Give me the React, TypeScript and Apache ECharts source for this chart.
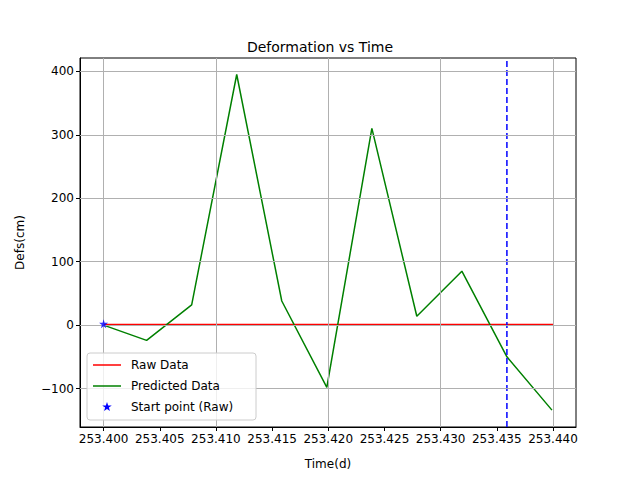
import { useEffect, useRef } from "react";
import * as echarts from "echarts";

const predTimes = [253.4, 253.40383, 253.40784, 253.41185, 253.41586, 253.41987, 253.42388, 253.42788, 253.43189, 253.4359, 253.43991];
const predDefs = [0, -24, 32, 395, 38, -98, 310, 14, 85, -50, -134];
const rawTimes = [253.4, 253.44];
const rawDefs = [1, 1];
const startPoint = [253.4, 2];
const markerTime = 253.4359;
const xTicks = [253.4, 253.405, 253.41, 253.415, 253.42, 253.425, 253.43, 253.435, 253.44];
const yTicks = [-100, 0, 100, 200, 300, 400];
const Y_MIN = -160.6;
const Y_MAX = 421;

const FONT = "DejaVu Sans";

function star(cx: number, cy: number, r: number) {
  const pts: number[][] = [];
  for (let i = 0; i < 10; i++) {
    const rr = i % 2 === 0 ? r : r * 0.4;
    const a = -Math.PI / 2 + (i * Math.PI) / 5;
    pts.push([cx + rr * Math.cos(a), cy + rr * Math.sin(a)]);
  }
  return pts;
}

export default function App() {
  const ref = useRef<HTMLDivElement | null>(null);
  useEffect(() => {
    document.body.style.margin = "0";
    const chart = echarts.init(ref.current!, undefined, { renderer: "svg" });
    const gridStyle = { color: "#b0b0b0", width: 1, type: "solid" as const };
    chart.setOption({
      animation: false,
      backgroundColor: "#fff",
      textStyle: { fontFamily: FONT },
      title: {
        text: "Deformation vs Time",
        left: "center",
        top: 35,
        textStyle: { fontFamily: FONT, fontSize: 14, fontWeight: "normal", color: "#000" },
      },
      grid: { left: 80, right: 64, top: 58, bottom: 53, show: true, borderColor: "#000", borderWidth: 1 },
      xAxis: {
        type: "value",
        min: 253.3979,
        max: 253.44205,
        name: "Time(d)",
        nameLocation: "middle",
        nameGap: 31,
        nameTextStyle: { fontFamily: FONT, fontSize: 12, color: "#000" },
        axisLine: { show: true, onZero: false, lineStyle: { color: "#000" } },
        axisTick: { show: true, customValues: xTicks, length: 4, lineStyle: { color: "#000" } },
        axisLabel: { customValues: xTicks, color: "#000", fontSize: 12, fontFamily: FONT, formatter: (v: number) => v.toFixed(3), margin: 6 },
        splitLine: { show: false },
      },
      yAxis: {
        type: "value",
        min: Y_MIN,
        max: Y_MAX,
        name: "Defs(cm)",
        nameLocation: "middle",
        nameGap: 54,
        nameTextStyle: { fontFamily: FONT, fontSize: 12, color: "#000" },
        axisLine: { show: true, onZero: false, lineStyle: { color: "#000" } },
        axisTick: { show: true, customValues: yTicks, length: 4, lineStyle: { color: "#000" } },
        axisLabel: { customValues: yTicks, color: "#000", fontSize: 12, fontFamily: FONT, formatter: (v: number) => (v < 0 ? "\u2212" + Math.abs(v) : String(v)), margin: 6 },
        splitLine: { show: false },
      },
      series: [
        {
          type: "line",
          data: [],
          silent: true,
          markLine: {
            symbol: "none",
            silent: true,
            label: { show: false },
            lineStyle: gridStyle,
            data: [...xTicks.map((x) => ({ xAxis: x })), ...yTicks.map((y) => ({ yAxis: y }))],
          },
        },
        {
          name: "Raw Data",
          type: "line",
          data: rawTimes.map((t, i) => [t, rawDefs[i]]),
          showSymbol: false,
          lineStyle: { color: "#ff0000", width: 1.5 },
          z: 3,
        },
        {
          name: "Predicted Data",
          type: "line",
          data: predTimes.map((t, i) => [t, predDefs[i]]),
          showSymbol: false,
          lineStyle: { color: "#008000", width: 1.5 },
          z: 4,
        },
        {
          name: "Marker",
          type: "line",
          data: [[markerTime, Y_MIN], [markerTime, Y_MAX]],
          showSymbol: false,
          silent: true,
          lineStyle: { color: "#0000ff", width: 1.5, type: [6, 3] },
          z: 4,
        },
        {
          name: "Start point (Raw)",
          type: "scatter",
          data: [startPoint],
          symbol: "path://M50,0 L61,35 L98,35 L68,57 L79,91 L50,70 L21,91 L32,57 L2,35 L39,35 Z",
          symbolSize: 9,
          itemStyle: { color: "#0000ff" },
          z: 5,
        },
      ],
      graphic: [
        {
          type: "rect",
          shape: { x: 87, y: 353, width: 169, height: 67, r: 3 },
          style: { fill: "rgba(255,255,255,0.8)", stroke: "#cccccc", lineWidth: 1 },
          z: 10,
        },
        { type: "line", shape: { x1: 93, y1: 365, x2: 121, y2: 365 }, style: { stroke: "#ff0000", lineWidth: 1.5 }, z: 11 },
        { type: "text", style: { x: 131, y: 365, text: "Raw Data", font: `12px ${FONT}`, fill: "#000", verticalAlign: "middle" }, z: 11 },
        { type: "line", shape: { x1: 93, y1: 386, x2: 121, y2: 386 }, style: { stroke: "#008000", lineWidth: 1.5 }, z: 11 },
        { type: "text", style: { x: 131, y: 386, text: "Predicted Data", font: `12px ${FONT}`, fill: "#000", verticalAlign: "middle" }, z: 11 },
        { type: "polygon", shape: { points: star(107, 407, 5) }, style: { fill: "#0000ff" }, z: 11 },
        { type: "text", style: { x: 131, y: 407, text: "Start point (Raw)", font: `12px ${FONT}`, fill: "#000", verticalAlign: "middle" }, z: 11 },
      ],
    });
    return () => chart.dispose();
  }, []);
  return <div ref={ref} style={{ width: 640, height: 480 }} />;
}
